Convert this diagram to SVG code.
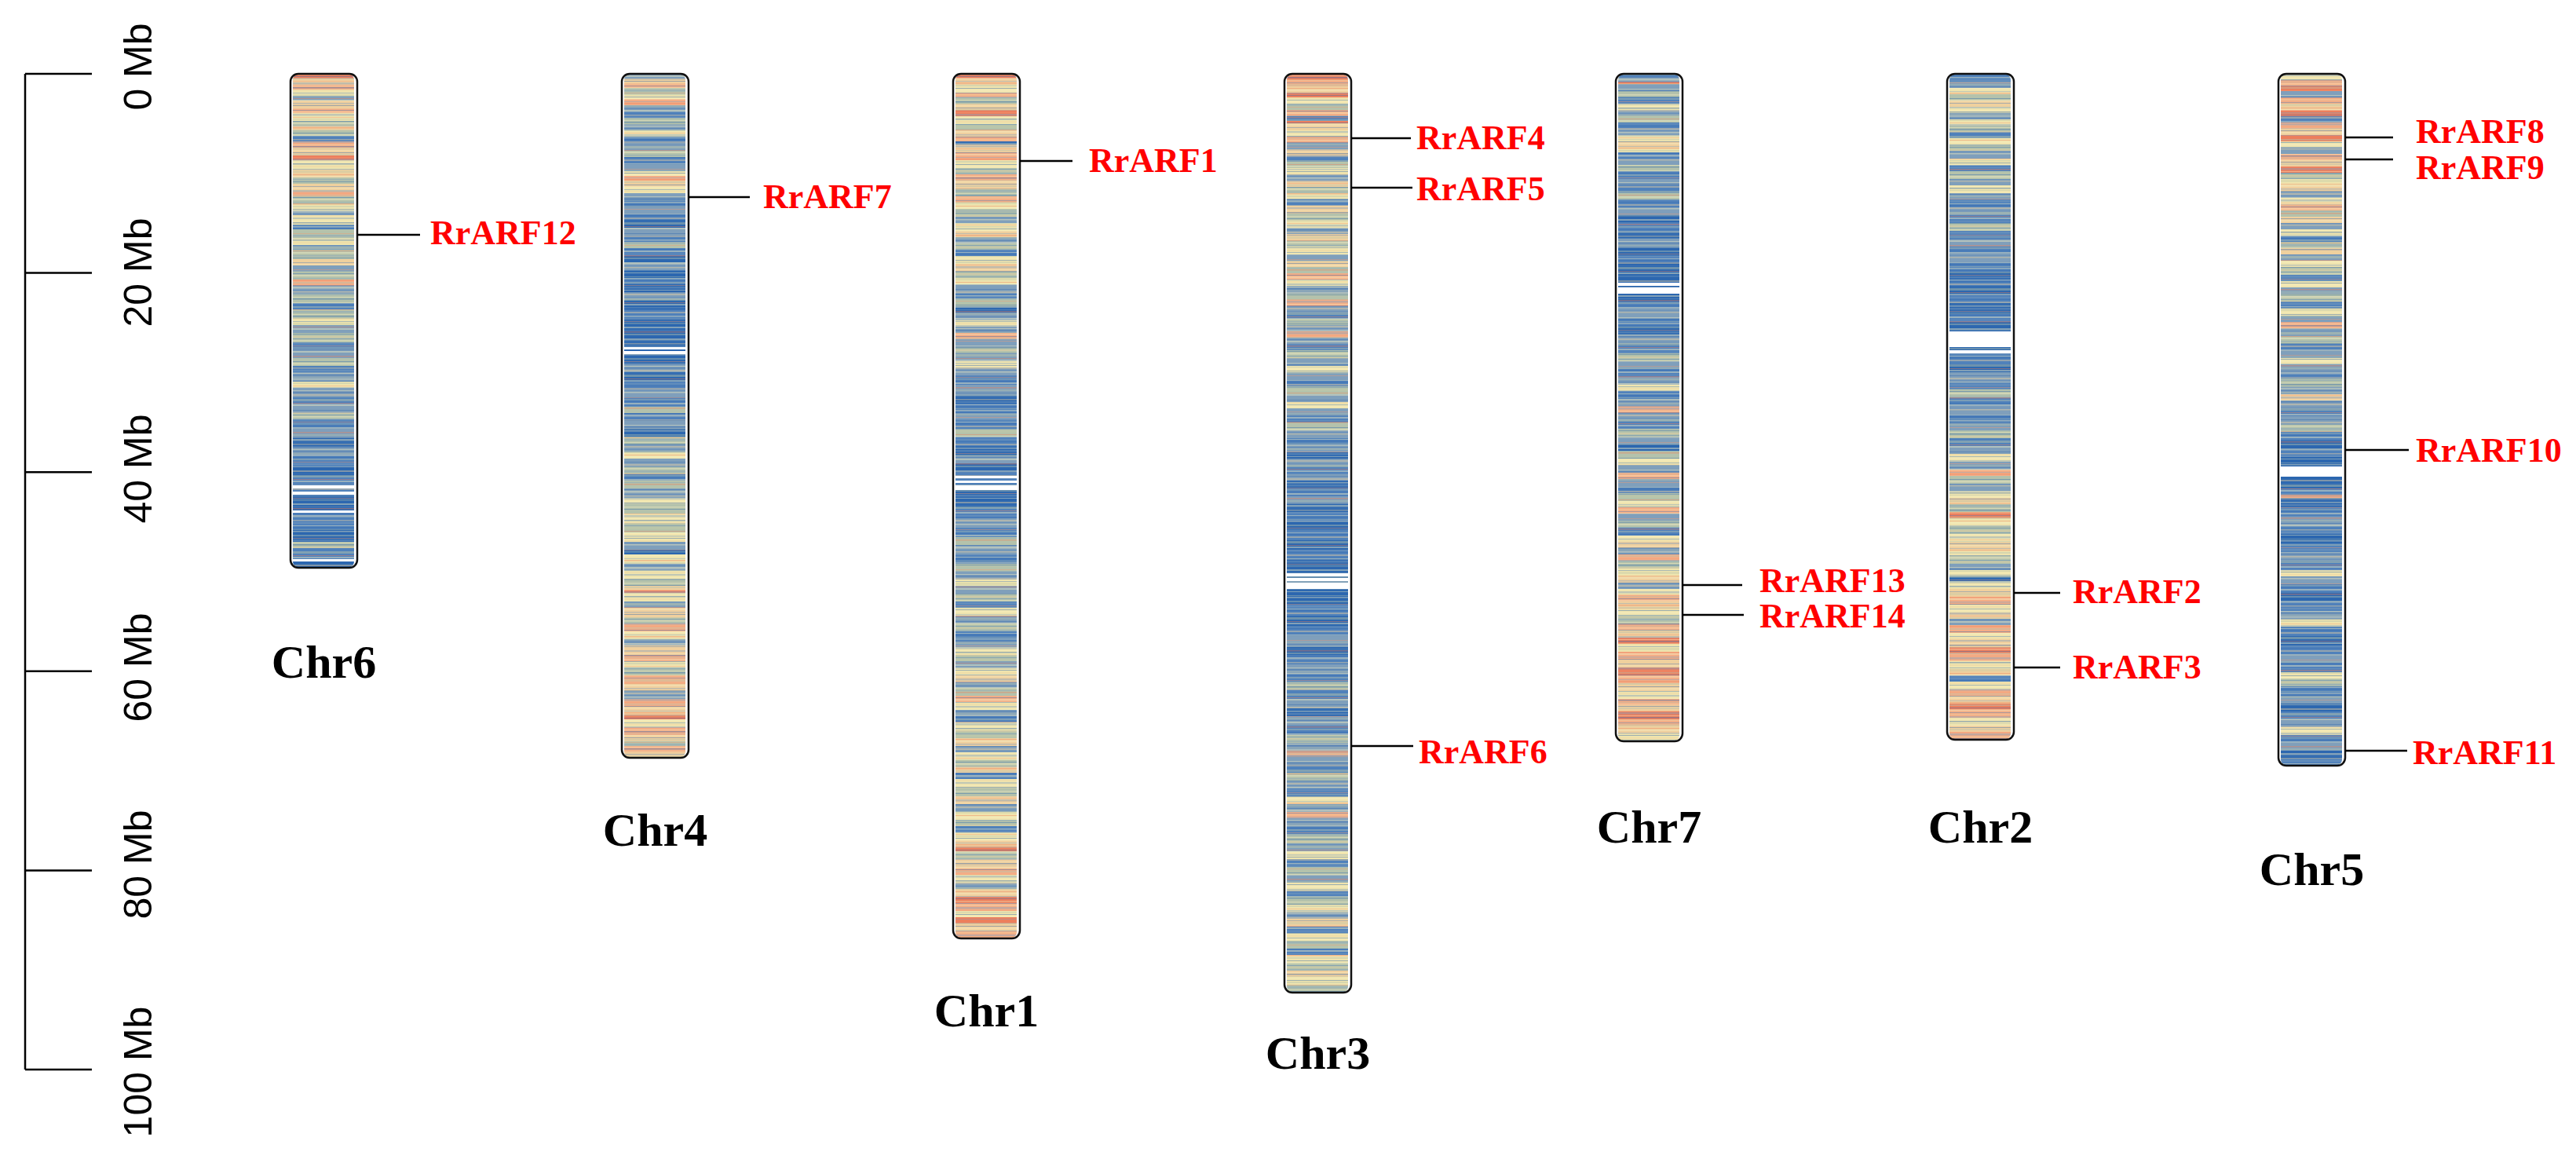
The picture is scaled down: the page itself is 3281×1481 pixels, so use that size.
<svg xmlns="http://www.w3.org/2000/svg" width="3281" height="1481" viewBox="0 0 3281 1481">
<style>
.B{fill:#2d68b0}.b{fill:#5182bb}.g{fill:#809fba}.s{fill:#b4c2ab}.y{fill:#efe4ae}.t{fill:#efcf9e}.o{fill:#f3ad86}.O{fill:#ec7f5e}.W{fill:#fff}
.ol{fill:none;stroke:#111;stroke-width:2.5}
.cl{font-family:"Liberation Serif","Times New Roman",serif;font-weight:bold;font-size:60px;text-anchor:middle;fill:#000}
.gl{font-family:"Liberation Serif","Times New Roman",serif;font-weight:bold;font-size:44px;fill:#f00}
.sl{font-family:"Liberation Sans",Arial,sans-serif;font-size:50px;text-anchor:middle;fill:#000}
.cn line{stroke:#000;stroke-width:2.5}
.tx{opacity:.42}
</style>
<defs>
<pattern id="tex" patternUnits="userSpaceOnUse" width="78" height="97">
<path fill="#f8efc2" d="M0 0h78v1.5H0zM0 15h78v1H0zM0 33h78v2H0zM0 48h78v1.5H0zM0 62h78v2H0zM0 77h78v2.5H0zM0 90h78v1H0z"/>
<path fill="#2a64ad" d="M0 3h78v1H0zM0 17h78v1.5H0zM0 40h78v1H0zM0 60h78v1H0zM0 75h78v1H0zM0 92h78v1.5H0z"/>
<path fill="#b5c3ae" d="M0 5h78v2H0zM0 57h78v1.5H0zM0 71h78v2H0zM0 95h78v1H0z"/>
<path fill="#f39a72" d="M0 9h78v1H0zM0 55h78v1H0z"/>
<path fill="#7e9ebe" d="M0 11h78v2.5H0zM0 37h78v1.5H0zM0 51h78v2.5H0zM0 66h78v1H0zM0 86h78v2H0z"/>
<path fill="#f0d39f" d="M0 20h78v2H0zM0 43h78v2H0zM0 83h78v1.5H0z"/>
<path fill="#4b7db9" d="M0 24h78v1H0zM0 46h78v1H0zM0 81h78v1H0z"/>
<path fill="#c3cca9" d="M0 26h78v3H0z"/>
<path fill="#ee7d59" d="M0 31h78v1H0zM0 68h78v1.5H0z"/>
</pattern>
<clipPath id="k6"><rect x="0" y="0" width="78" height="629" rx="8"/></clipPath>
<clipPath id="k4"><rect x="0" y="0" width="78" height="871" rx="8"/></clipPath>
<clipPath id="k1"><rect x="0" y="0" width="78" height="1101" rx="8"/></clipPath>
<clipPath id="k3"><rect x="0" y="0" width="78" height="1170" rx="8"/></clipPath>
<clipPath id="k7"><rect x="0" y="0" width="78" height="850" rx="8"/></clipPath>
<clipPath id="k2"><rect x="0" y="0" width="78" height="848" rx="8"/></clipPath>
<clipPath id="k5"><rect x="0" y="0" width="78" height="881" rx="8"/></clipPath>
</defs>
<rect width="3281" height="1481" fill="#fff"/>

<g id="scale">
<path d="M32 94V1362M32 94H117M32 347.6H117M32 601.2H117M32 854.8H117M32 1108.4H117M32 1362H117" stroke="#000" stroke-width="2.5" fill="none"/>
<text class="sl" transform="translate(193,85) rotate(-90)">0 Mb</text>
<text class="sl" transform="translate(193,347) rotate(-90)">20 Mb</text>
<text class="sl" transform="translate(193,597) rotate(-90)">40 Mb</text>
<text class="sl" transform="translate(193,850) rotate(-90)">60 Mb</text>
<text class="sl" transform="translate(193,1101) rotate(-90)">80 Mb</text>
<text class="sl" transform="translate(193,1365) rotate(-90)">100 Mb</text>
</g>

<g id="chr6">
<g transform="translate(373,94)" clip-path="url(#k6)">
<path class="O" d="M0 0h78V6H0z"/><path class="t" d="M0 6h78V14H0z"/><path class="o" d="M0 14h78V20H0z"/><path class="y" d="M0 20h78V28H0z"/><path class="g" d="M0 28h78V34H0z"/><path class="t" d="M0 34h78V44H0z"/><path class="o" d="M0 44h78V50H0z"/><path class="y" d="M0 50h78V60H0z"/><path class="s" d="M0 60h78V66H0z"/><path class="t" d="M0 66h78V72H0z"/><path class="s" d="M0 72h78V79H0z"/><path class="b" d="M0 79h78V86H0z"/><path class="o" d="M0 86h78V94H0z"/><path class="t" d="M0 94h78V104H0z"/><path class="O" d="M0 104h78V110H0z"/><path class="y" d="M0 110h78V122H0z"/><path class="t" d="M0 122h78V132H0z"/><path class="s" d="M0 132h78V140H0z"/><path class="t" d="M0 140h78V150H0z"/><path class="o" d="M0 150h78V156H0z"/><path class="s" d="M0 156h78V166H0z"/><path class="y" d="M0 166h78V174H0z"/><path class="g" d="M0 174h78V180H0z"/><path class="y" d="M0 180h78V192H0z"/><path class="b" d="M0 192h78V198H0z"/><path class="s" d="M0 198h78V210H0z"/><path class="y" d="M0 210h78V218H0z"/><path class="g" d="M0 218h78V224H0z"/><path class="s" d="M0 224h78V236H0z"/><path class="t" d="M0 236h78V244H0z"/><path class="g" d="M0 244h78V252H0z"/><path class="s" d="M0 252h78V262H0z"/><path class="o" d="M0 262h78V270H0z"/><path class="g" d="M0 270h78V280H0z"/><path class="s" d="M0 280h78V292H0z"/><path class="b" d="M0 292h78V300H0z"/><path class="s" d="M0 300h78V312H0z"/><path class="y" d="M0 312h78V320H0z"/><path class="g" d="M0 320h78V330H0z"/><path class="s" d="M0 330h78V342H0z"/><path class="b" d="M0 342h78V350H0z"/><path class="g" d="M0 350h78V362H0z"/><path class="s" d="M0 362h78V372H0z"/><path class="b" d="M0 372h78V380H0z"/><path class="g" d="M0 380h78V392H0z"/><path class="y" d="M0 392h78V400H0z"/><path class="g" d="M0 400h78V412H0z"/><path class="b" d="M0 412h78V420H0z"/><path class="g" d="M0 420h78V432H0z"/><path class="s" d="M0 432h78V440H0z"/><path class="b" d="M0 440h78V452H0z"/><path class="g" d="M0 452h78V464H0z"/><path class="B" d="M0 464h78V476H0z"/><path class="g" d="M0 476h78V486H0z"/><path class="b" d="M0 486h78V500H0z"/><path class="B" d="M0 500h78V512H0z"/><path class="b" d="M0 512h78V536H0z"/><path class="B" d="M0 536h78V559H0z"/><path class="b" d="M0 559h78V580H0z"/><path class="B" d="M0 580h78V596H0z"/><path class="s" d="M0 596h78V604H0z"/><path class="b" d="M0 604h78V618H0z"/><path class="B" d="M0 618h78V629H0z"/>
<g transform="translate(0,0)"><rect class="tx" y="0" width="78" height="629" fill="url(#tex)"/></g>
<path class="W" d="M0 524h78V528H0zM0 532h78V536H0zM0 556h78V559H0zM0 618h78V621H0z"/>
</g>
<rect class="ol" x="370" y="94" width="85" height="629" rx="10"/>
<text class="cl" x="412.5" y="863">Chr6</text>
</g>

<g id="chr4">
<g transform="translate(795,94)" clip-path="url(#k4)">
<path class="g" d="M0 0h78V6H0z"/><path class="t" d="M0 6h78V12H0z"/><path class="o" d="M0 12h78V18H0z"/><path class="s" d="M0 18h78V26H0z"/><path class="y" d="M0 26h78V32H0z"/><path class="o" d="M0 32h78V40H0z"/><path class="g" d="M0 40h78V48H0z"/><path class="b" d="M0 48h78V56H0z"/><path class="s" d="M0 56h78V64H0z"/><path class="g" d="M0 64h78V72H0z"/><path class="y" d="M0 72h78V80H0z"/><path class="b" d="M0 80h78V88H0z"/><path class="g" d="M0 88h78V98H0z"/><path class="s" d="M0 98h78V106H0z"/><path class="b" d="M0 106h78V116H0z"/><path class="g" d="M0 116h78V124H0z"/><path class="y" d="M0 124h78V130H0z"/><path class="o" d="M0 130h78V136H0z"/><path class="t" d="M0 136h78V144H0z"/><path class="y" d="M0 144h78V152H0z"/><path class="g" d="M0 152h78V160H0z"/><path class="b" d="M0 160h78V170H0z"/><path class="g" d="M0 170h78V178H0z"/><path class="b" d="M0 178h78V186H0z"/><path class="B" d="M0 186h78V196H0z"/><path class="g" d="M0 196h78V206H0z"/><path class="b" d="M0 206h78V214H0z"/><path class="s" d="M0 214h78V222H0z"/><path class="b" d="M0 222h78V232H0z"/><path class="B" d="M0 232h78V240H0z"/><path class="g" d="M0 240h78V250H0z"/><path class="B" d="M0 250h78V260H0z"/><path class="b" d="M0 260h78V268H0z"/><path class="B" d="M0 268h78V278H0z"/><path class="g" d="M0 278h78V288H0z"/><path class="B" d="M0 288h78V300H0z"/><path class="b" d="M0 300h78V312H0z"/><path class="B" d="M0 312h78V370H0z"/><path class="g" d="M0 370h78V380H0z"/><path class="B" d="M0 380h78V392H0z"/><path class="b" d="M0 392h78V402H0z"/><path class="g" d="M0 402h78V412H0z"/><path class="b" d="M0 412h78V424H0z"/><path class="s" d="M0 424h78V432H0z"/><path class="b" d="M0 432h78V442H0z"/><path class="g" d="M0 442h78V452H0z"/><path class="B" d="M0 452h78V462H0z"/><path class="s" d="M0 462h78V472H0z"/><path class="g" d="M0 472h78V482H0z"/><path class="y" d="M0 482h78V490H0z"/><path class="g" d="M0 490h78V500H0z"/><path class="s" d="M0 500h78V510H0z"/><path class="b" d="M0 510h78V518H0z"/><path class="s" d="M0 518h78V528H0z"/><path class="g" d="M0 528h78V540H0z"/><path class="y" d="M0 540h78V548H0z"/><path class="s" d="M0 548h78V560H0z"/><path class="y" d="M0 560h78V572H0z"/><path class="s" d="M0 572h78V584H0z"/><path class="y" d="M0 584h78V596H0z"/><path class="g" d="M0 596h78V606H0z"/><path class="B" d="M0 606h78V612H0z"/><path class="y" d="M0 612h78V624H0z"/><path class="g" d="M0 624h78V632H0z"/><path class="y" d="M0 632h78V644H0z"/><path class="s" d="M0 644h78V652H0z"/><path class="t" d="M0 652h78V658H0z"/><path class="O" d="M0 658h78V661H0z"/><path class="y" d="M0 661h78V672H0z"/><path class="g" d="M0 672h78V680H0z"/><path class="t" d="M0 680h78V692H0z"/><path class="s" d="M0 692h78V700H0z"/><path class="o" d="M0 700h78V710H0z"/><path class="y" d="M0 710h78V720H0z"/><path class="g" d="M0 720h78V728H0z"/><path class="t" d="M0 728h78V740H0z"/><path class="o" d="M0 740h78V748H0z"/><path class="y" d="M0 748h78V756H0z"/><path class="s" d="M0 756h78V766H0z"/><path class="o" d="M0 766h78V776H0z"/><path class="t" d="M0 776h78V786H0z"/><path class="g" d="M0 786h78V796H0z"/><path class="o" d="M0 796h78V806H0z"/><path class="t" d="M0 806h78V816H0z"/><path class="O" d="M0 816h78V822H0z"/><path class="y" d="M0 822h78V832H0z"/><path class="o" d="M0 832h78V842H0z"/><path class="t" d="M0 842h78V850H0z"/><path class="s" d="M0 850h78V856H0z"/><path class="o" d="M0 856h78V864H0z"/><path class="t" d="M0 864h78V871H0z"/>
<g transform="translate(0,-31)"><rect class="tx" y="31" width="78" height="871" fill="url(#tex)"/></g>
<path class="W" d="M0 348h78V351H0zM0 353h78V357H0z"/>
</g>
<rect class="ol" x="792" y="94" width="85" height="871" rx="10"/>
<text class="cl" x="834.5" y="1077">Chr4</text>
</g>

<g id="chr1">
<g transform="translate(1217,94)" clip-path="url(#k1)">
<path class="O" d="M0 0h78V6H0z"/><path class="t" d="M0 6h78V14H0z"/><path class="y" d="M0 14h78V24H0z"/><path class="o" d="M0 24h78V30H0z"/><path class="s" d="M0 30h78V38H0z"/><path class="t" d="M0 38h78V46H0z"/><path class="O" d="M0 46h78V54H0z"/><path class="y" d="M0 54h78V64H0z"/><path class="s" d="M0 64h78V72H0z"/><path class="t" d="M0 72h78V80H0z"/><path class="o" d="M0 80h78V86H0z"/><path class="B" d="M0 86h78V90H0z"/><path class="t" d="M0 90h78V100H0z"/><path class="o" d="M0 100h78V110H0z"/><path class="y" d="M0 110h78V120H0z"/><path class="s" d="M0 120h78V128H0z"/><path class="o" d="M0 128h78V136H0z"/><path class="t" d="M0 136h78V146H0z"/><path class="s" d="M0 146h78V156H0z"/><path class="o" d="M0 156h78V164H0z"/><path class="y" d="M0 164h78V172H0z"/><path class="s" d="M0 172h78V182H0z"/><path class="g" d="M0 182h78V190H0z"/><path class="y" d="M0 190h78V200H0z"/><path class="t" d="M0 200h78V208H0z"/><path class="g" d="M0 208h78V216H0z"/><path class="s" d="M0 216h78V224H0z"/><path class="b" d="M0 224h78V232H0z"/><path class="y" d="M0 232h78V242H0z"/><path class="t" d="M0 242h78V252H0z"/><path class="s" d="M0 252h78V260H0z"/><path class="y" d="M0 260h78V268H0z"/><path class="g" d="M0 268h78V280H0z"/><path class="b" d="M0 280h78V286H0z"/><path class="s" d="M0 286h78V296H0z"/><path class="B" d="M0 296h78V304H0z"/><path class="g" d="M0 304h78V314H0z"/><path class="y" d="M0 314h78V322H0z"/><path class="g" d="M0 322h78V330H0z"/><path class="o" d="M0 330h78V338H0z"/><path class="g" d="M0 338h78V348H0z"/><path class="s" d="M0 348h78V356H0z"/><path class="g" d="M0 356h78V366H0z"/><path class="y" d="M0 366h78V374H0z"/><path class="g" d="M0 374h78V384H0z"/><path class="b" d="M0 384h78V396H0z"/><path class="g" d="M0 396h78V408H0z"/><path class="B" d="M0 408h78V420H0z"/><path class="b" d="M0 420h78V432H0z"/><path class="g" d="M0 432h78V440H0z"/><path class="b" d="M0 440h78V452H0z"/><path class="s" d="M0 452h78V462H0z"/><path class="b" d="M0 462h78V474H0z"/><path class="B" d="M0 474h78V486H0z"/><path class="g" d="M0 486h78V496H0z"/><path class="B" d="M0 496h78V508H0z"/><path class="b" d="M0 508h78V524H0z"/><path class="B" d="M0 524h78V552H0z"/><path class="b" d="M0 552h78V566H0z"/><path class="g" d="M0 566h78V578H0z"/><path class="b" d="M0 578h78V590H0z"/><path class="s" d="M0 590h78V600H0z"/><path class="g" d="M0 600h78V612H0z"/><path class="b" d="M0 612h78V624H0z"/><path class="s" d="M0 624h78V634H0z"/><path class="g" d="M0 634h78V644H0z"/><path class="y" d="M0 644h78V652H0z"/><path class="g" d="M0 652h78V662H0z"/><path class="s" d="M0 662h78V672H0z"/><path class="b" d="M0 672h78V680H0z"/><path class="y" d="M0 680h78V690H0z"/><path class="g" d="M0 690h78V700H0z"/><path class="s" d="M0 700h78V710H0z"/><path class="b" d="M0 710h78V722H0z"/><path class="g" d="M0 722h78V730H0z"/><path class="y" d="M0 730h78V740H0z"/><path class="s" d="M0 740h78V748H0z"/><path class="g" d="M0 748h78V756H0z"/><path class="y" d="M0 756h78V766H0z"/><path class="t" d="M0 766h78V774H0z"/><path class="g" d="M0 774h78V782H0z"/><path class="s" d="M0 782h78V792H0z"/><path class="o" d="M0 792h78V800H0z"/><path class="y" d="M0 800h78V810H0z"/><path class="g" d="M0 810h78V818H0z"/><path class="b" d="M0 818h78V826H0z"/><path class="y" d="M0 826h78V836H0z"/><path class="s" d="M0 836h78V846H0z"/><path class="t" d="M0 846h78V856H0z"/><path class="g" d="M0 856h78V864H0z"/><path class="y" d="M0 864h78V874H0z"/><path class="s" d="M0 874h78V882H0z"/><path class="t" d="M0 882h78V890H0z"/><path class="b" d="M0 890h78V898H0z"/><path class="y" d="M0 898h78V910H0z"/><path class="s" d="M0 910h78V920H0z"/><path class="t" d="M0 920h78V930H0z"/><path class="g" d="M0 930h78V940H0z"/><path class="y" d="M0 940h78V950H0z"/><path class="s" d="M0 950h78V958H0z"/><path class="b" d="M0 958h78V966H0z"/><path class="y" d="M0 966h78V976H0z"/><path class="t" d="M0 976h78V984H0z"/><path class="O" d="M0 984h78V990H0z"/><path class="s" d="M0 990h78V1000H0z"/><path class="t" d="M0 1000h78V1012H0z"/><path class="o" d="M0 1012h78V1020H0z"/><path class="y" d="M0 1020h78V1030H0z"/><path class="g" d="M0 1030h78V1038H0z"/><path class="t" d="M0 1038h78V1048H0z"/><path class="O" d="M0 1048h78V1056H0z"/><path class="o" d="M0 1056h78V1066H0z"/><path class="y" d="M0 1066h78V1074H0z"/><path class="O" d="M0 1074h78V1082H0z"/><path class="t" d="M0 1082h78V1092H0z"/><path class="o" d="M0 1092h78V1101H0z"/>
<g transform="translate(0,-57)"><rect class="tx" y="57" width="78" height="1101" fill="url(#tex)"/></g>
<path class="W" d="M0 512h78V515H0zM0 518h78V521H0zM0 524h78V530H0z"/>
</g>
<rect class="ol" x="1214" y="94" width="85" height="1101" rx="10"/>
<text class="cl" x="1256.5" y="1307">Chr1</text>
</g>

<g id="chr3">
<g transform="translate(1639,94)" clip-path="url(#k3)">
<path class="O" d="M0 0h78V8H0z"/><path class="o" d="M0 8h78V16H0z"/><path class="t" d="M0 16h78V24H0z"/><path class="O" d="M0 24h78V30H0z"/><path class="y" d="M0 30h78V38H0z"/><path class="s" d="M0 38h78V46H0z"/><path class="o" d="M0 46h78V54H0z"/><path class="b" d="M0 54h78V60H0z"/><path class="O" d="M0 60h78V63H0z"/><path class="t" d="M0 63h78V72H0z"/><path class="y" d="M0 72h78V80H0z"/><path class="o" d="M0 80h78V88H0z"/><path class="g" d="M0 88h78V96H0z"/><path class="t" d="M0 96h78V104H0z"/><path class="b" d="M0 104h78V112H0z"/><path class="s" d="M0 112h78V120H0z"/><path class="y" d="M0 120h78V128H0z"/><path class="g" d="M0 128h78V136H0z"/><path class="t" d="M0 136h78V144H0z"/><path class="s" d="M0 144h78V152H0z"/><path class="y" d="M0 152h78V160H0z"/><path class="b" d="M0 160h78V168H0z"/><path class="t" d="M0 168h78V178H0z"/><path class="s" d="M0 178h78V186H0z"/><path class="y" d="M0 186h78V196H0z"/><path class="g" d="M0 196h78V204H0z"/><path class="t" d="M0 204h78V212H0z"/><path class="s" d="M0 212h78V220H0z"/><path class="y" d="M0 220h78V230H0z"/><path class="g" d="M0 230h78V238H0z"/><path class="t" d="M0 238h78V246H0z"/><path class="s" d="M0 246h78V254H0z"/><path class="o" d="M0 254h78V262H0z"/><path class="y" d="M0 262h78V270H0z"/><path class="g" d="M0 270h78V280H0z"/><path class="s" d="M0 280h78V288H0z"/><path class="o" d="M0 288h78V296H0z"/><path class="g" d="M0 296h78V304H0z"/><path class="b" d="M0 304h78V312H0z"/><path class="s" d="M0 312h78V320H0z"/><path class="g" d="M0 320h78V328H0z"/><path class="o" d="M0 328h78V336H0z"/><path class="g" d="M0 336h78V344H0z"/><path class="b" d="M0 344h78V352H0z"/><path class="s" d="M0 352h78V362H0z"/><path class="g" d="M0 362h78V372H0z"/><path class="y" d="M0 372h78V380H0z"/><path class="g" d="M0 380h78V390H0z"/><path class="b" d="M0 390h78V398H0z"/><path class="s" d="M0 398h78V408H0z"/><path class="g" d="M0 408h78V418H0z"/><path class="y" d="M0 418h78V426H0z"/><path class="g" d="M0 426h78V436H0z"/><path class="b" d="M0 436h78V444H0z"/><path class="s" d="M0 444h78V454H0z"/><path class="g" d="M0 454h78V464H0z"/><path class="b" d="M0 464h78V472H0z"/><path class="g" d="M0 472h78V482H0z"/><path class="B" d="M0 482h78V490H0z"/><path class="g" d="M0 490h78V500H0z"/><path class="b" d="M0 500h78V510H0z"/><path class="g" d="M0 510h78V518H0z"/><path class="B" d="M0 518h78V528H0z"/><path class="b" d="M0 528h78V538H0z"/><path class="g" d="M0 538h78V548H0z"/><path class="B" d="M0 548h78V558H0z"/><path class="b" d="M0 558h78V570H0z"/><path class="B" d="M0 570h78V582H0z"/><path class="b" d="M0 582h78V594H0z"/><path class="B" d="M0 594h78V606H0z"/><path class="b" d="M0 606h78V618H0z"/><path class="B" d="M0 618h78V676H0z"/><path class="b" d="M0 676h78V690H0z"/><path class="B" d="M0 690h78V704H0z"/><path class="b" d="M0 704h78V716H0z"/><path class="g" d="M0 716h78V728H0z"/><path class="B" d="M0 728h78V740H0z"/><path class="b" d="M0 740h78V752H0z"/><path class="g" d="M0 752h78V764H0z"/><path class="b" d="M0 764h78V774H0z"/><path class="s" d="M0 774h78V784H0z"/><path class="b" d="M0 784h78V796H0z"/><path class="g" d="M0 796h78V808H0z"/><path class="B" d="M0 808h78V818H0z"/><path class="g" d="M0 818h78V830H0z"/><path class="b" d="M0 830h78V842H0z"/><path class="s" d="M0 842h78V852H0z"/><path class="g" d="M0 852h78V862H0z"/><path class="o" d="M0 862h78V868H0z"/><path class="g" d="M0 868h78V880H0z"/><path class="b" d="M0 880h78V890H0z"/><path class="s" d="M0 890h78V900H0z"/><path class="g" d="M0 900h78V910H0z"/><path class="b" d="M0 910h78V920H0z"/><path class="y" d="M0 920h78V930H0z"/><path class="g" d="M0 930h78V940H0z"/><path class="o" d="M0 940h78V948H0z"/><path class="g" d="M0 948h78V958H0z"/><path class="b" d="M0 958h78V968H0z"/><path class="s" d="M0 968h78V980H0z"/><path class="g" d="M0 980h78V990H0z"/><path class="y" d="M0 990h78V1000H0z"/><path class="b" d="M0 1000h78V1010H0z"/><path class="s" d="M0 1010h78V1020H0z"/><path class="g" d="M0 1020h78V1030H0z"/><path class="y" d="M0 1030h78V1040H0z"/><path class="b" d="M0 1040h78V1048H0z"/><path class="s" d="M0 1048h78V1058H0z"/><path class="y" d="M0 1058h78V1068H0z"/><path class="g" d="M0 1068h78V1076H0z"/><path class="t" d="M0 1076h78V1086H0z"/><path class="b" d="M0 1086h78V1094H0z"/><path class="y" d="M0 1094h78V1104H0z"/><path class="s" d="M0 1104h78V1114H0z"/><path class="b" d="M0 1114h78V1122H0z"/><path class="y" d="M0 1122h78V1132H0z"/><path class="s" d="M0 1132h78V1142H0z"/><path class="t" d="M0 1142h78V1150H0z"/><path class="y" d="M0 1150h78V1160H0z"/><path class="s" d="M0 1160h78V1170H0z"/>
<g transform="translate(0,-13)"><rect class="tx" y="13" width="78" height="1170" fill="url(#tex)"/></g>
<path class="W" d="M0 636h78V640H0zM0 642h78V646H0zM0 648h78V656H0z"/>
</g>
<rect class="ol" x="1636" y="94" width="85" height="1170" rx="10"/>
<text class="cl" x="1678.5" y="1361">Chr3</text>
</g>

<g id="chr7">
<g transform="translate(2061,94)" clip-path="url(#k7)">
<path class="b" d="M0 0h78V4H0z"/><path class="g" d="M0 4h78V10H0z"/><path class="O" d="M0 10h78V13H0z"/><path class="g" d="M0 13h78V22H0z"/><path class="s" d="M0 22h78V30H0z"/><path class="b" d="M0 30h78V38H0z"/><path class="y" d="M0 38h78V46H0z"/><path class="g" d="M0 46h78V54H0z"/><path class="s" d="M0 54h78V62H0z"/><path class="b" d="M0 62h78V70H0z"/><path class="g" d="M0 70h78V78H0z"/><path class="y" d="M0 78h78V86H0z"/><path class="t" d="M0 86h78V94H0z"/><path class="y" d="M0 94h78V100H0z"/><path class="b" d="M0 100h78V108H0z"/><path class="g" d="M0 108h78V116H0z"/><path class="s" d="M0 116h78V124H0z"/><path class="b" d="M0 124h78V134H0z"/><path class="g" d="M0 134h78V142H0z"/><path class="b" d="M0 142h78V152H0z"/><path class="s" d="M0 152h78V160H0z"/><path class="b" d="M0 160h78V170H0z"/><path class="g" d="M0 170h78V180H0z"/><path class="B" d="M0 180h78V190H0z"/><path class="b" d="M0 190h78V200H0z"/><path class="B" d="M0 200h78V210H0z"/><path class="g" d="M0 210h78V220H0z"/><path class="B" d="M0 220h78V232H0z"/><path class="b" d="M0 232h78V240H0z"/><path class="B" d="M0 240h78V290H0z"/><path class="b" d="M0 290h78V300H0z"/><path class="g" d="M0 300h78V312H0z"/><path class="b" d="M0 312h78V322H0z"/><path class="B" d="M0 322h78V332H0z"/><path class="g" d="M0 332h78V344H0z"/><path class="b" d="M0 344h78V356H0z"/><path class="s" d="M0 356h78V366H0z"/><path class="g" d="M0 366h78V376H0z"/><path class="b" d="M0 376h78V386H0z"/><path class="g" d="M0 386h78V396H0z"/><path class="y" d="M0 396h78V404H0z"/><path class="b" d="M0 404h78V414H0z"/><path class="g" d="M0 414h78V424H0z"/><path class="o" d="M0 424h78V432H0z"/><path class="g" d="M0 432h78V442H0z"/><path class="b" d="M0 442h78V452H0z"/><path class="s" d="M0 452h78V462H0z"/><path class="g" d="M0 462h78V472H0z"/><path class="B" d="M0 472h78V480H0z"/><path class="s" d="M0 480h78V490H0z"/><path class="y" d="M0 490h78V498H0z"/><path class="g" d="M0 498h78V508H0z"/><path class="o" d="M0 508h78V516H0z"/><path class="g" d="M0 516h78V526H0z"/><path class="b" d="M0 526h78V534H0z"/><path class="s" d="M0 534h78V544H0z"/><path class="y" d="M0 544h78V552H0z"/><path class="o" d="M0 552h78V560H0z"/><path class="g" d="M0 560h78V570H0z"/><path class="s" d="M0 570h78V578H0z"/><path class="b" d="M0 578h78V588H0z"/><path class="y" d="M0 588h78V596H0z"/><path class="t" d="M0 596h78V604H0z"/><path class="g" d="M0 604h78V612H0z"/><path class="o" d="M0 612h78V620H0z"/><path class="s" d="M0 620h78V630H0z"/><path class="y" d="M0 630h78V640H0z"/><path class="t" d="M0 640h78V648H0z"/><path class="g" d="M0 648h78V656H0z"/><path class="y" d="M0 656h78V664H0z"/><path class="o" d="M0 664h78V672H0z"/><path class="t" d="M0 672h78V682H0z"/><path class="y" d="M0 682h78V690H0z"/><path class="s" d="M0 690h78V700H0z"/><path class="o" d="M0 700h78V708H0z"/><path class="t" d="M0 708h78V718H0z"/><path class="O" d="M0 718h78V726H0z"/><path class="y" d="M0 726h78V736H0z"/><path class="o" d="M0 736h78V746H0z"/><path class="t" d="M0 746h78V756H0z"/><path class="O" d="M0 756h78V766H0z"/><path class="o" d="M0 766h78V776H0z"/><path class="t" d="M0 776h78V786H0z"/><path class="y" d="M0 786h78V796H0z"/><path class="o" d="M0 796h78V804H0z"/><path class="t" d="M0 804h78V812H0z"/><path class="O" d="M0 812h78V822H0z"/><path class="o" d="M0 822h78V830H0z"/><path class="t" d="M0 830h78V840H0z"/><path class="y" d="M0 840h78V850H0z"/>
<g transform="translate(0,-71)"><rect class="tx" y="71" width="78" height="850" fill="url(#tex)"/></g>
<path class="W" d="M0 266h78V270H0zM0 272h78V280H0z"/>
</g>
<rect class="ol" x="2058" y="94" width="85" height="850" rx="10"/>
<text class="cl" x="2100.5" y="1073">Chr7</text>
</g>

<g id="chr2">
<g transform="translate(2483,94)" clip-path="url(#k2)">
<path class="b" d="M0 0h78V10H0z"/><path class="g" d="M0 10h78V18H0z"/><path class="y" d="M0 18h78V26H0z"/><path class="s" d="M0 26h78V34H0z"/><path class="t" d="M0 34h78V42H0z"/><path class="y" d="M0 42h78V50H0z"/><path class="g" d="M0 50h78V58H0z"/><path class="y" d="M0 58h78V66H0z"/><path class="s" d="M0 66h78V74H0z"/><path class="b" d="M0 74h78V82H0z"/><path class="y" d="M0 82h78V90H0z"/><path class="s" d="M0 90h78V98H0z"/><path class="g" d="M0 98h78V108H0z"/><path class="y" d="M0 108h78V116H0z"/><path class="b" d="M0 116h78V124H0z"/><path class="s" d="M0 124h78V134H0z"/><path class="g" d="M0 134h78V142H0z"/><path class="y" d="M0 142h78V152H0z"/><path class="g" d="M0 152h78V160H0z"/><path class="b" d="M0 160h78V170H0z"/><path class="g" d="M0 170h78V180H0z"/><path class="b" d="M0 180h78V190H0z"/><path class="s" d="M0 190h78V200H0z"/><path class="b" d="M0 200h78V210H0z"/><path class="g" d="M0 210h78V220H0z"/><path class="b" d="M0 220h78V230H0z"/><path class="g" d="M0 230h78V240H0z"/><path class="b" d="M0 240h78V252H0z"/><path class="B" d="M0 252h78V262H0z"/><path class="b" d="M0 262h78V270H0z"/><path class="B" d="M0 270h78V282H0z"/><path class="b" d="M0 282h78V292H0z"/><path class="B" d="M0 292h78V306H0z"/><path class="b" d="M0 306h78V316H0z"/><path class="B" d="M0 316h78V356H0z"/><path class="b" d="M0 356h78V370H0z"/><path class="B" d="M0 370h78V380H0z"/><path class="g" d="M0 380h78V392H0z"/><path class="b" d="M0 392h78V402H0z"/><path class="s" d="M0 402h78V412H0z"/><path class="b" d="M0 412h78V424H0z"/><path class="g" d="M0 424h78V434H0z"/><path class="b" d="M0 434h78V444H0z"/><path class="g" d="M0 444h78V454H0z"/><path class="s" d="M0 454h78V464H0z"/><path class="b" d="M0 464h78V474H0z"/><path class="g" d="M0 474h78V484H0z"/><path class="y" d="M0 484h78V494H0z"/><path class="g" d="M0 494h78V504H0z"/><path class="o" d="M0 504h78V512H0z"/><path class="s" d="M0 512h78V522H0z"/><path class="g" d="M0 522h78V532H0z"/><path class="y" d="M0 532h78V540H0z"/><path class="t" d="M0 540h78V548H0z"/><path class="s" d="M0 548h78V558H0z"/><path class="O" d="M0 558h78V566H0z"/><path class="y" d="M0 566h78V576H0z"/><path class="s" d="M0 576h78V586H0z"/><path class="y" d="M0 586h78V596H0z"/><path class="t" d="M0 596h78V606H0z"/><path class="y" d="M0 606h78V614H0z"/><path class="s" d="M0 614h78V624H0z"/><path class="g" d="M0 624h78V632H0z"/><path class="y" d="M0 632h78V640H0z"/><path class="B" d="M0 640h78V646H0z"/><path class="y" d="M0 646h78V656H0z"/><path class="t" d="M0 656h78V666H0z"/><path class="o" d="M0 666h78V676H0z"/><path class="y" d="M0 676h78V686H0z"/><path class="t" d="M0 686h78V694H0z"/><path class="g" d="M0 694h78V702H0z"/><path class="o" d="M0 702h78V712H0z"/><path class="y" d="M0 712h78V720H0z"/><path class="t" d="M0 720h78V730H0z"/><path class="O" d="M0 730h78V738H0z"/><path class="o" d="M0 738h78V748H0z"/><path class="y" d="M0 748h78V758H0z"/><path class="t" d="M0 758h78V766H0z"/><path class="b" d="M0 766h78V774H0z"/><path class="y" d="M0 774h78V784H0z"/><path class="o" d="M0 784h78V792H0z"/><path class="t" d="M0 792h78V802H0z"/><path class="O" d="M0 802h78V810H0z"/><path class="o" d="M0 810h78V820H0z"/><path class="y" d="M0 820h78V830H0z"/><path class="t" d="M0 830h78V838H0z"/><path class="o" d="M0 838h78V848H0z"/>
<g transform="translate(0,-44)"><rect class="tx" y="44" width="78" height="848" fill="url(#tex)"/></g>
<path class="W" d="M0 328h78V348H0zM0 352h78V356H0z"/>
</g>
<rect class="ol" x="2480" y="94" width="85" height="848" rx="10"/>
<text class="cl" x="2522.5" y="1073">Chr2</text>
</g>

<g id="chr5">
<g transform="translate(2905,94)" clip-path="url(#k5)">
<path class="y" d="M0 0h78V8H0z"/><path class="o" d="M0 8h78V16H0z"/><path class="O" d="M0 16h78V22H0z"/><path class="g" d="M0 22h78V30H0z"/><path class="o" d="M0 30h78V38H0z"/><path class="t" d="M0 38h78V46H0z"/><path class="O" d="M0 46h78V54H0z"/><path class="b" d="M0 54h78V62H0z"/><path class="o" d="M0 62h78V70H0z"/><path class="t" d="M0 70h78V78H0z"/><path class="O" d="M0 78h78V86H0z"/><path class="y" d="M0 86h78V94H0z"/><path class="g" d="M0 94h78V102H0z"/><path class="o" d="M0 102h78V110H0z"/><path class="t" d="M0 110h78V118H0z"/><path class="O" d="M0 118h78V126H0z"/><path class="s" d="M0 126h78V134H0z"/><path class="y" d="M0 134h78V142H0z"/><path class="t" d="M0 142h78V150H0z"/><path class="g" d="M0 150h78V158H0z"/><path class="y" d="M0 158h78V166H0z"/><path class="o" d="M0 166h78V174H0z"/><path class="s" d="M0 174h78V182H0z"/><path class="t" d="M0 182h78V190H0z"/><path class="g" d="M0 190h78V198H0z"/><path class="y" d="M0 198h78V206H0z"/><path class="b" d="M0 206h78V214H0z"/><path class="s" d="M0 214h78V222H0z"/><path class="t" d="M0 222h78V230H0z"/><path class="g" d="M0 230h78V238H0z"/><path class="y" d="M0 238h78V246H0z"/><path class="s" d="M0 246h78V256H0z"/><path class="b" d="M0 256h78V264H0z"/><path class="y" d="M0 264h78V272H0z"/><path class="g" d="M0 272h78V280H0z"/><path class="s" d="M0 280h78V290H0z"/><path class="b" d="M0 290h78V298H0z"/><path class="y" d="M0 298h78V308H0z"/><path class="g" d="M0 308h78V316H0z"/><path class="o" d="M0 316h78V324H0z"/><path class="g" d="M0 324h78V334H0z"/><path class="s" d="M0 334h78V344H0z"/><path class="b" d="M0 344h78V352H0z"/><path class="g" d="M0 352h78V362H0z"/><path class="y" d="M0 362h78V370H0z"/><path class="g" d="M0 370h78V380H0z"/><path class="b" d="M0 380h78V388H0z"/><path class="s" d="M0 388h78V398H0z"/><path class="g" d="M0 398h78V408H0z"/><path class="t" d="M0 408h78V416H0z"/><path class="g" d="M0 416h78V426H0z"/><path class="b" d="M0 426h78V436H0z"/><path class="g" d="M0 436h78V446H0z"/><path class="s" d="M0 446h78V456H0z"/><path class="b" d="M0 456h78V466H0z"/><path class="B" d="M0 466h78V478H0z"/><path class="b" d="M0 478h78V488H0z"/><path class="B" d="M0 488h78V528H0z"/><path class="b" d="M0 528h78V536H0z"/><path class="o" d="M0 536h78V540H0z"/><path class="B" d="M0 540h78V552H0z"/><path class="b" d="M0 552h78V564H0z"/><path class="g" d="M0 564h78V576H0z"/><path class="b" d="M0 576h78V586H0z"/><path class="B" d="M0 586h78V598H0z"/><path class="b" d="M0 598h78V610H0z"/><path class="g" d="M0 610h78V620H0z"/><path class="b" d="M0 620h78V632H0z"/><path class="y" d="M0 632h78V640H0z"/><path class="g" d="M0 640h78V650H0z"/><path class="b" d="M0 650h78V660H0z"/><path class="B" d="M0 660h78V672H0z"/><path class="b" d="M0 672h78V684H0z"/><path class="g" d="M0 684h78V694H0z"/><path class="y" d="M0 694h78V704H0z"/><path class="b" d="M0 704h78V716H0z"/><path class="B" d="M0 716h78V728H0z"/><path class="b" d="M0 728h78V740H0z"/><path class="g" d="M0 740h78V750H0z"/><path class="b" d="M0 750h78V762H0z"/><path class="y" d="M0 762h78V770H0z"/><path class="s" d="M0 770h78V780H0z"/><path class="b" d="M0 780h78V792H0z"/><path class="g" d="M0 792h78V802H0z"/><path class="B" d="M0 802h78V812H0z"/><path class="b" d="M0 812h78V822H0z"/><path class="g" d="M0 822h78V832H0z"/><path class="y" d="M0 832h78V842H0z"/><path class="b" d="M0 842h78V852H0z"/><path class="g" d="M0 852h78V862H0z"/><path class="B" d="M0 862h78V872H0z"/><path class="b" d="M0 872h78V881H0z"/>
<g transform="translate(0,-85)"><rect class="tx" y="85" width="78" height="881" fill="url(#tex)"/></g>
<path class="W" d="M0 500h78V513H0z"/>
</g>
<rect class="ol" x="2902" y="94" width="85" height="881" rx="10"/>
<text class="cl" x="2944.5" y="1127">Chr5</text>
</g>

<g id="connectors" class="cn">
<line x1="455" y1="299" x2="535" y2="299"/>
<line x1="877" y1="251" x2="955" y2="251"/>
<line x1="1299" y1="205" x2="1366" y2="205"/>
<line x1="1721" y1="176" x2="1797" y2="176"/>
<line x1="1721" y1="239" x2="1799" y2="239"/>
<line x1="1721" y1="950" x2="1800" y2="950"/>
<line x1="2143" y1="745" x2="2219" y2="745"/>
<line x1="2143" y1="783" x2="2221" y2="783"/>
<line x1="2565" y1="755" x2="2624" y2="755"/>
<line x1="2565" y1="850" x2="2624" y2="850"/>
<line x1="2987" y1="175" x2="3048" y2="175"/>
<line x1="2987" y1="203" x2="3048" y2="203"/>
<line x1="2987" y1="573" x2="3068" y2="573"/>
<line x1="2987" y1="956" x2="3066" y2="956"/>
</g>

<g id="RrARF12"><text class="gl" x="548" y="311">RrARF12</text></g>
<g id="RrARF7"><text class="gl" x="972" y="265">RrARF7</text></g>
<g id="RrARF1"><text class="gl" x="1387" y="219">RrARF1</text></g>
<g id="RrARF4"><text class="gl" x="1804" y="190">RrARF4</text></g>
<g id="RrARF5"><text class="gl" x="1804" y="255">RrARF5</text></g>
<g id="RrARF6"><text class="gl" x="1807" y="972">RrARF6</text></g>
<g id="RrARF13"><text class="gl" x="2241" y="754">RrARF13</text></g>
<g id="RrARF14"><text class="gl" x="2241" y="799">RrARF14</text></g>
<g id="RrARF2"><text class="gl" x="2640" y="768">RrARF2</text></g>
<g id="RrARF3"><text class="gl" x="2640" y="864">RrARF3</text></g>
<g id="RrARF8"><text class="gl" x="3077" y="182">RrARF8</text></g>
<g id="RrARF9"><text class="gl" x="3077" y="228">RrARF9</text></g>
<g id="RrARF10"><text class="gl" x="3077" y="588">RrARF10</text></g>
<g id="RrARF11"><text class="gl" x="3073" y="973">RrARF11</text></g>
</svg>
